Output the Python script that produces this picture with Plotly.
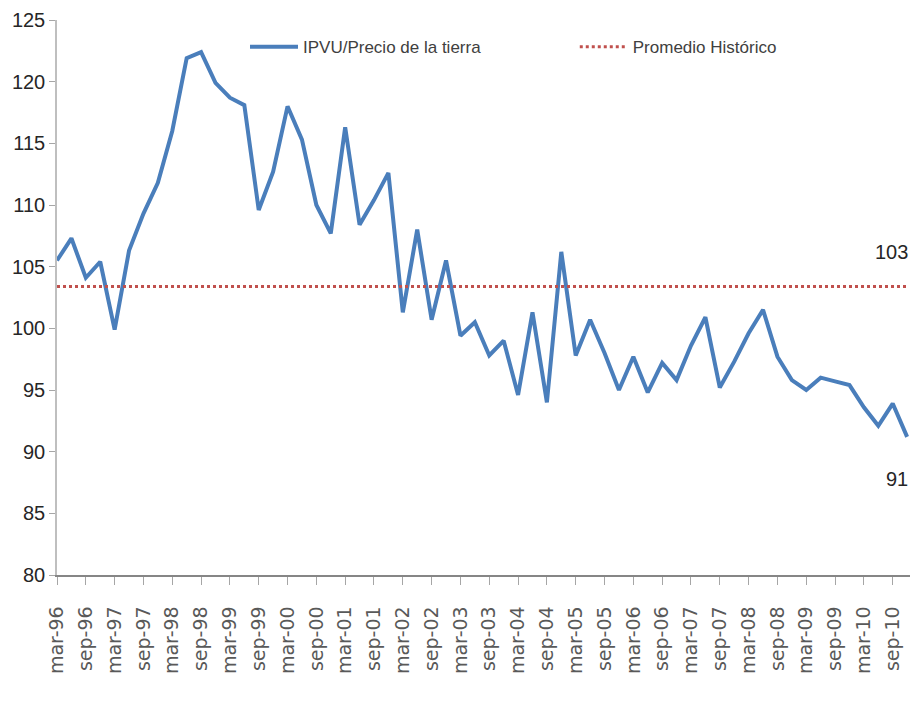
import plotly.graph_objects as go

# Quarterly categories, March 1996 to December 2010
months = ["mar", "jun", "sep", "dic"]
years = [f"{y % 100:02d}" for y in range(1996, 2011)]
quarters = [f"{m}-{y}" for y in years for m in months]

# IPVU / land price index, quarterly
ipvu = [
    105.5, 107.3, 104.1, 105.4, 99.9, 106.3, 109.3, 111.8, 116.0, 121.9,
    122.4, 119.9, 118.7, 118.1, 109.6, 112.7, 118.0, 115.3, 110.0, 107.7,
    116.3, 108.4, 110.4, 112.6, 101.3, 108.0, 100.7, 105.5, 99.4, 100.5,
    97.8, 99.0, 94.6, 101.3, 94.0, 106.2, 97.8, 100.7, 98.0, 95.0,
    97.7, 94.8, 97.2, 95.8, 98.6, 100.9, 95.2, 97.3, 99.6, 101.5,
    97.7, 95.8, 95.0, 96.0, 95.7, 95.4, 93.6, 92.1, 93.9, 91.2,
]

# Historical average of the series
promedio = 103.4

# Labelled ticks: every second quarter (mar / sep)
tick_vals = quarters[::2]

sans = "Liberation Sans, Arial, sans-serif"

fig = go.Figure()
fig.add_trace(go.Scatter(
    x=quarters, y=ipvu, mode="lines", name="IPVU/Precio de la tierra",
    line=dict(color="#4A7EBB", width=4), legend="legend",
))
fig.add_trace(go.Scatter(
    x=quarters, y=[promedio] * len(quarters), mode="lines",
    name="Promedio Histórico",
    line=dict(color="#C0504D", width=3, dash="dot"), legend="legend2",
))

# Value labels for the average and the last observation
fig.add_annotation(
    x=1.0, xref="paper", y=promedio, yref="y", text=f"{int(promedio)}",
    showarrow=False, xanchor="right", yanchor="middle", yshift=34,
    font=dict(family=sans, size=20, color="#262626"),
)
fig.add_annotation(
    x=quarters[-1], y=ipvu[-1], text=f"{int(round(ipvu[-1]))}",
    showarrow=False, xanchor="right", yanchor="middle", yshift=-42, xshift=3,
    font=dict(family=sans, size=20, color="#262626"),
)

legend_style = dict(
    orientation="h", y=0.951, xanchor="left", yanchor="middle",
    bgcolor="rgba(0,0,0,0)", itemwidth=48,
    font=dict(family=sans, size=17, color="#404040"),
)

fig.update_layout(
    width=910, height=704,
    margin=dict(l=57, r=0, t=20, b=129),
    paper_bgcolor="white", plot_bgcolor="white",
    showlegend=True,
    legend=dict(x=0.2204, **legend_style),
    legend2=dict(x=0.607, **legend_style),
    xaxis=dict(
        type="category", range=[0, 59.2],
        tickmode="array", tickvals=tick_vals, ticktext=tick_vals,
        tickangle=-90, ticks="outside", ticklen=8, tickcolor="#A6A6A6",
        ticklabelstandoff=14,
        showline=True, linecolor="#868686", linewidth=1.5,
        showgrid=False, zeroline=False,
        tickfont=dict(family="DejaVu Sans, sans-serif", size=19, color="#595959"),
    ),
    yaxis=dict(
        range=[80, 125], tickmode="linear", tick0=80, dtick=5,
        ticks="outside", ticklen=6, tickcolor="#A6A6A6",
        showline=True, linecolor="#BFBFBF", linewidth=1.5,
        showgrid=False, zeroline=False,
        tickfont=dict(family=sans, size=20, color="#262626"),
    ),
)

fig.write_html("out.html")
